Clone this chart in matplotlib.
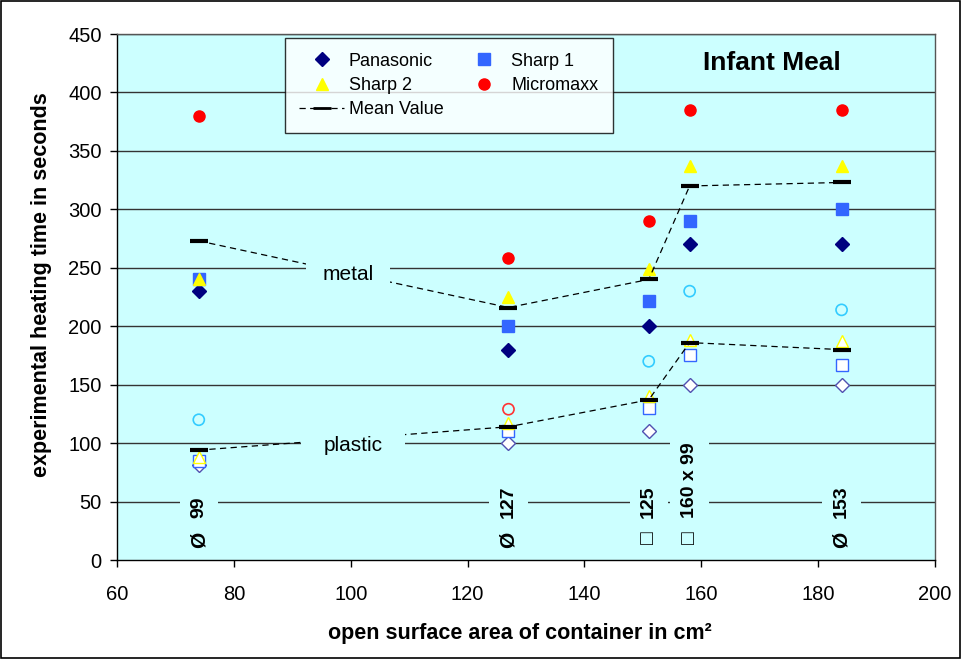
import matplotlib
matplotlib.use("Agg")
import matplotlib.pyplot as plt
from matplotlib.lines import Line2D
from matplotlib.patches import Rectangle

plt.rcParams['font.family'] = ['Liberation Sans', 'DejaVu Sans']

# ---- data ----
area = [74, 127, 151, 158, 184]
container_symbols = ["\u00d8", "\u00d8", "\u25a1", "\u25a1", "\u00d8"]
container_sizes = ["99", "127", "125", "160 x 99", "153"]

metal_panasonic = [230, 180, 200, 270, 270]
metal_sharp1 = [240, 200, 222, 290, 300]
metal_sharp2 = [240, 225, 249, 337, 337]
metal_micromaxx = [380, 258, 290, 385, 385]
metal_mean = [273, 216, 240, 320, 323]

plastic_panasonic = [81, 100, 110, 150, 150]
plastic_sharp1 = [85, 110, 130, 175, 167]
plastic_sharp2 = [88, 117, 140, 188, 187]
plastic_micromaxx = [120, 129, 170, 230, 214]
plastic_mean = [94, 114, 137, 186, 180]

x_ticks = [60, 80, 100, 120, 140, 160, 180, 200]
y_ticks = [0, 50, 100, 150, 200, 250, 300, 350, 400, 450]

# ---- styles ----
BG = '#CCFFFF'
c_pan = '#000080'
c_s1 = '#3366FF'
c_s2 = '#FFFF00'
c_mm = '#FF0000'
c_pan_open = '#5050B0'
c_mm_open = ['#33CCFF', '#FF3333', '#33CCFF', '#33CCFF', '#33CCFF']

fig = plt.figure(figsize=(9.62, 6.59), dpi=100)
ax = fig.add_axes([0.1216, 0.1502, 0.972 - 0.1216, 0.9484 - 0.1502])
ax.set_facecolor(BG)

ax.set_xlim(60, 200)
ax.set_ylim(0, 450)
ax.set_xticks(x_ticks)
ax.set_yticks(y_ticks)
ax.tick_params(axis='both', labelsize=14.5, direction='out', length=5, width=1, colors='black')
ax.tick_params(axis='x', pad=13)
ax.tick_params(axis='y', pad=6)

for y in y_ticks[1:]:
    ax.axhline(y, color='#333333', lw=1.0, zorder=1)

for s in ['left', 'bottom']:
    ax.spines[s].set_color('black')
    ax.spines[s].set_linewidth(1.0)
for s in ['top', 'right']:
    ax.spines[s].set_color('#555555')
    ax.spines[s].set_linewidth(1.0)

ms = 8
# metal (filled)
ax.plot(area, metal_panasonic, 'D', color=c_pan, ms=7, ls='none', zorder=3)
ax.plot(area, metal_sharp1, 's', color=c_s1, ms=ms, ls='none', zorder=3)
ax.plot(area, metal_sharp2, '^', color=c_s2, ms=9, ls='none', zorder=3)
ax.plot(area, metal_micromaxx, 'o', color=c_mm, ms=ms, ls='none', zorder=3)

# plastic (open)
ax.plot(area, plastic_panasonic, 'D', mfc='white', mec=c_pan_open, mew=1, ms=7, ls='none', zorder=3)
ax.plot(area, plastic_sharp1, 's', mfc='white', mec=c_s1, mew=1, ms=ms, ls='none', zorder=3)
ax.plot(area, plastic_sharp2, '^', mfc='white', mec=c_s2, mew=1, ms=9, ls='none', zorder=3)
ax.scatter(area, plastic_micromaxx, s=ms**2, marker='o', facecolors='none',
           edgecolors=c_mm_open, linewidths=1.2, zorder=3)

# mean values
for mean in (metal_mean, plastic_mean):
    ax.plot(area, mean, color='black', ls=(0, (5, 3.5)), lw=0.9, zorder=4)
    ax.plot(area, mean, '_', color='black', ms=13, mew=3, ls='none', zorder=5)

# group labels
ax.text(99.5, 244, 'metal', fontsize=15, ha='center', va='center', zorder=6,
        bbox=dict(boxstyle='square,pad=0.8', fc=BG, ec='none'))
ax.text(100.4, 98, 'plastic', fontsize=15, ha='center', va='center', zorder=6,
        bbox=dict(boxstyle='square,pad=1.1', fc=BG, ec='none'))

# container labels
for x, sym, size in zip(area, container_symbols, container_sizes):
    ax.text(x, 36, size, rotation=90, fontsize=14, fontweight='bold', ha='center',
            va='bottom', zorder=6,
            bbox=dict(boxstyle='square,pad=0.55', fc=BG, ec='none'))
    is_sq = sym == "\u25a1"
    ax.text(x, 19 if is_sq else 17, sym, rotation=90, fontsize=15,
            fontweight='normal' if is_sq else 'bold',
            ha='center', va='center', zorder=7, family=['Liberation Sans', 'DejaVu Sans'])

ax.text(172.1, 425, 'Infant Meal', fontsize=19, fontweight='bold', ha='center', va='center', zorder=6)

ax.set_xlabel('open surface area of container in cm\u00b2', fontsize=15.5, fontweight='bold', labelpad=14)
ax.set_ylabel('experimental heating time in seconds', fontsize=15.5, fontweight='bold', labelpad=12)
ax.yaxis.label.set_y(0.523)
ax.xaxis.label.set_x(0.493)

handles = [
    Line2D([], [], marker='D', color=c_pan, ls='none', ms=7),
    Line2D([], [], marker='^', color=c_s2, ls='none', ms=9),
    Line2D([], [], marker='_', color='black', ls=(0, (5, 3.5)), lw=0.9, ms=13, mew=2),
    Line2D([], [], marker='s', color=c_s1, ls='none', ms=ms),
    Line2D([], [], marker='o', color=c_mm, ls='none', ms=ms),
]
labels = ['Panasonic', 'Sharp 2', 'Mean Value', 'Sharp 1', 'Micromaxx']
leg = ax.legend(handles, labels, ncol=2, loc='upper left', bbox_to_anchor=(0.205, 0.992),
                fontsize=13, frameon=True, fancybox=False, borderaxespad=0,
                handlelength=2.5, handletextpad=0.25, columnspacing=1.0,
                labelspacing=0.4, borderpad=0.8)
leg.get_frame().set_edgecolor('black')
leg.get_frame().set_linewidth(1.0)
leg.set_zorder(10)

fig.patches.append(Rectangle((0.001, 0.002), 0.997, 0.996, transform=fig.transFigure,
                             fill=False, ec='black', lw=1.2))

fig.savefig('out.png', dpi=100)
